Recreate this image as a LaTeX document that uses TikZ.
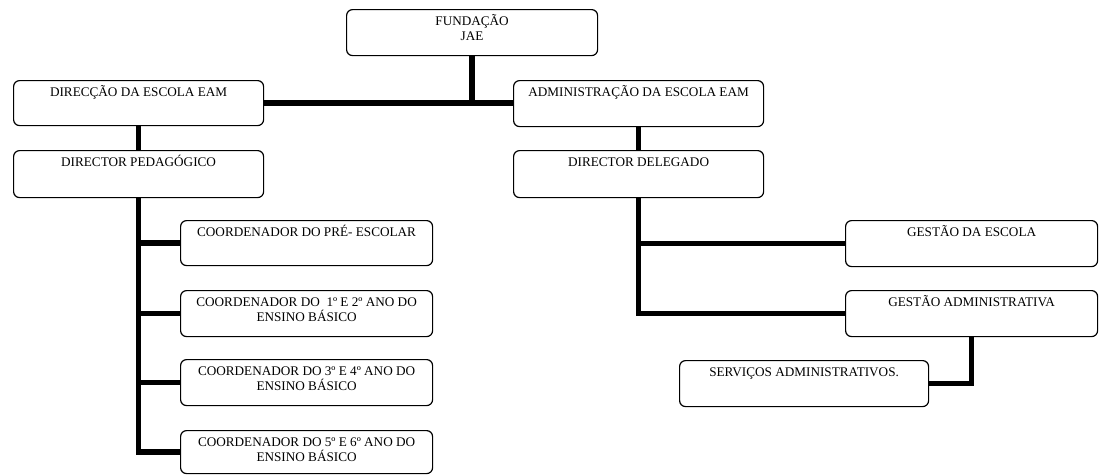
\documentclass[tikz,border=0pt]{standalone}
\usepackage{fontspec}
\setmainfont{Liberation Serif}
\newcommand\bxtext[3]{\parbox[c][#2][t]{#1}{\centering\rule{0pt}{16pt}#3}}
\tikzset{
  box/.style={draw, line width=1.2pt, rounded corners=6pt, inner sep=0pt, anchor=north west, fill=white,
    font=\fontsize{13.2}{15.2}\selectfont},
  conn/.style={line width=5.5pt, line join=miter}
}
\begin{document}
\begin{tikzpicture}[x=1pt,y=-1pt]
\useasboundingbox (0,0) rectangle (1100,474);
\node[box] (F) at (346,9) {\bxtext{251pt}{46pt}{FUNDAÇÃO\\JAE}};
\node[box] (D) at (13,80) {\bxtext{250pt}{45pt}{DIRECÇÃO DA ESCOLA EAM}};
\node[box] (A) at (513,80) {\bxtext{250pt}{46pt}{ADMINISTRAÇÃO DA ESCOLA EAM}};
\node[box] (P) at (13,150) {\bxtext{250pt}{47pt}{DIRECTOR PEDAGÓGICO}};
\node[box] (G) at (513,150) {\bxtext{250pt}{47pt}{DIRECTOR DELEGADO}};
\node[box] (C1) at (180,220) {\bxtext{252pt}{45pt}{COORDENADOR DO PRÉ- ESCOLAR}};
\node[box] (C2) at (180,290) {\bxtext{252pt}{46pt}{COORDENADOR DO\ \ 1º E 2º ANO DO\\ENSINO BÁSICO}};
\node[box] (C3) at (180,359) {\bxtext{252pt}{46pt}{COORDENADOR DO 3º E 4º ANO DO\\ENSINO BÁSICO}};
\node[box] (C4) at (180,430) {\bxtext{252pt}{43pt}{COORDENADOR DO 5º E 6º ANO DO\\ENSINO BÁSICO}};
\node[box] (GE) at (845,220) {\bxtext{252pt}{46pt}{GESTÃO DA ESCOLA}};
\node[box] (GA) at (845,290) {\bxtext{252pt}{46pt}{GESTÃO ADMINISTRATIVA}};
\node[box] (S) at (679,360) {\bxtext{249pt}{46pt}{SERVIÇOS ADMINISTRATIVOS.}};
\draw[conn] (F.south) -- (F.south |- D.east);
\draw[conn] (D.east) -- (D.east -| A.west);
\draw[conn] (D.south) -- (P.north);
\draw[conn] (A.south) -- (G.north);
\draw[conn] (P.south) |- (C4.west);
\draw[conn] (P.south |- C1.west) -- (C1.west);
\draw[conn] (P.south |- C2.west) -- (C2.west);
\draw[conn] (P.south |- C3.west) -- (C3.west);
\draw[conn] (G.south) |- (GA.west);
\draw[conn] (G.south |- GE.west) -- (GE.west);
\draw[conn] (GA.south) |- (S.east);
\end{tikzpicture}
\end{document}
